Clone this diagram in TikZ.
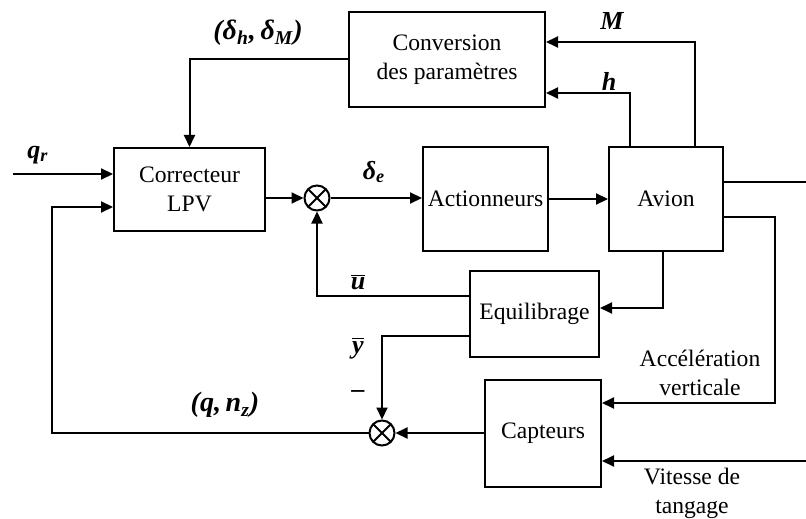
\documentclass[tikz,border=0pt]{standalone}
\usepackage{fontspec}
\setmainfont{Liberation Serif}
\usetikzlibrary{arrows.meta,calc}
\newcommand\lsub[1]{\textsubscript{\textit{#1}}}
\begin{document}
\begin{tikzpicture}[x=0.5pt,y=-0.5pt,
  font=\fontsize{11.8}{14.5}\selectfont,
  blk/.style={draw,line width=1pt,inner sep=0pt,align=center},
  sumc/.style={draw,line width=1pt,circle,minimum size=12.5pt,inner sep=0pt,
    path picture={\draw[line width=0.9pt] (path picture bounding box.north west)--(path picture bounding box.south east)
      (path picture bounding box.north east)--(path picture bounding box.south west);}},
  wire/.style={line width=1pt},
  arr/.style={wire,-{Triangle[length=6pt,width=5.5pt]}},
  lab/.style={font=\fontsize{13}{15}\selectfont\bfseries\itshape,inner sep=0pt},
  txt/.style={align=center,inner sep=0pt}]
\useasboundingbox (0,0) rectangle (806,518);
% blocks
\node[blk,minimum width=98pt,minimum height=47.5pt] (conv) at (447,59.5) {Conversion\\des paramètres};
\node[blk,minimum width=75.5pt,minimum height=41.5pt] (corr) at (189.5,189.5) {Correcteur\\LPV};
\node[blk,minimum width=62.5pt,minimum height=52pt] (act) at (485.5,199) {Actionneurs};
\node[blk,minimum width=57pt,minimum height=52pt] (avion) at (666,199) {Avion};
\node[blk,minimum width=64.5pt,minimum height=43pt] (equi) at (534.5,314) {Equilibrage};
\node[blk,minimum width=58pt,minimum height=53.5pt] (capt) at (543,433.5) {Capteurs};
\node[sumc] (s1) at (317,198) {};
\node[sumc] (s2) at (382,433) {};
% free ends
\coordinate (qin) at (13,174);
\coordinate (yout) at (806,182);
\coordinate (vin) at (806,461);
\coordinate (fbl) at (52,433);
\coordinate (mtop) at (695,42);
\coordinate (htop) at (630,93);
\coordinate (avb) at (663,308);
\coordinate (avr) at (775,217);
\coordinate (ucor) at (317,296);
\coordinate (ycor) at (382,336);
% connectors
\draw[arr] (conv.west) -| (corr.north);
\draw[arr] (qin) -- (qin -| corr.west);
\draw[arr] (s2.west) -- (fbl) -- ($(fbl)+(0,-226)$) -- ($(corr.west)+(0,17.5)$);
\draw[arr] ($(corr.east)+(0,8.5)$) -- (s1.west);
\draw[arr] (s1.east) -- (s1 -| act.west);
\draw[arr] (act.east) -- (act.east -| avion.west);
\draw[wire] ($(avion.east)+(0,-17)$) -- (yout);
\draw[arr] (avion.north -| mtop) -- (mtop) -- (mtop -| conv.east);
\draw[arr] (avion.north -| htop) -- (htop) -- (htop -| conv.east);
\draw[arr] (avion.south -| avb) -- (avb) -- (avb -| equi.east);
\draw[arr] (avr -| avion.east) -- (avr) -- ($(avr)+(0,186)$) -- ($(capt.east)+(0,-30.5)$);
\draw[arr] (vin) -- (vin -| capt.east);
\draw[arr] (capt.west |- s2) -- (s2.east);
\draw[arr] ($(equi.west)+(0,-18)$) -- (ucor) -- (s1.south);
\draw[arr] ($(equi.west)+(0,22)$) -- (ycor) -- (s2.north);
% labels
\node[lab] (lq) at (38,155) {q\lsub{r}};
\node[lab,font=\fontsize{14}{16}\selectfont\bfseries\itshape] (ld) at (258,33) {(δ\lsub{h},\,δ\lsub{M})};
\node[lab] (le) at (374,172) {δ\lsub{e}};
\node[lab] (lM) at (612,21) {M};
\node[lab] (lh) at (609,81) {h};
\node[lab] (lu) at (358,282) {$\overline{\mbox{\textit{u}}}$};
\node[lab] (ly) at (358,348) {$\overline{\mbox{\textit{y}}}$};
\node[lab] (lm) at (358,394) {–};
\node[lab,font=\fontsize{14}{16}\selectfont\bfseries\itshape] (lqn) at (225,405) {(q,\,n\lsub{z})};
\node[txt] (lacc) at (700,373) {Accélération\\verticale};
\node[txt] (lvit) at (692,493) {Vitesse de\\tangage};
\end{tikzpicture}
\end{document}
